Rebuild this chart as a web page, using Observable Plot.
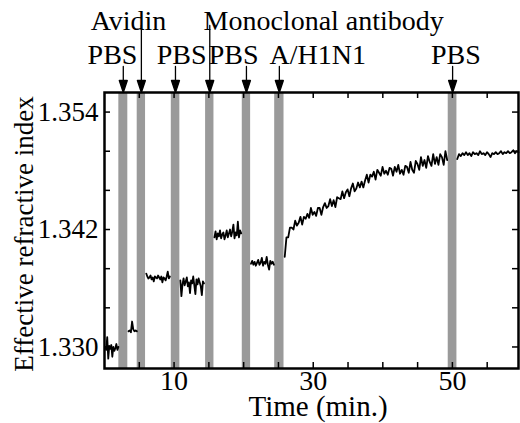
<!DOCTYPE html>
<html><head><meta charset="utf-8">
<script src="https://cdn.jsdelivr.net/npm/d3@7"></script>
<script src="https://cdn.jsdelivr.net/npm/@observablehq/plot@0.6"></script>
<style>body{margin:0;background:#fff}</style>
</head><body><div id="chart"></div>
<script>
// ---- data ----
const segStart = [0.1, 3.45, 6.0, 10.9, 15.8, 21.05, 25.9, 50.7];
const segEnd   = [2.0, 4.65, 9.4, 14.3, 19.65, 24.35, 49.25, 59.5];
const seg1 = [1.3300, 1.3297, 1.3310, 1.3288, 1.3301, 1.3298, 1.3302, 1.3290, 1.3300, 1.3296, 1.3299, 1.3303, 1.3297, 1.3300];
const seg2 = [1.3316, 1.3317, 1.3315, 1.3326, 1.3318, 1.3316, 1.3317, 1.3316];
const seg3 = [1.3375, 1.3372, 1.3370, 1.3371, 1.3373, 1.3369, 1.3371, 1.3367, 1.3372, 1.3371, 1.3370, 1.3373, 1.3371, 1.3369, 1.3372, 1.3366, 1.3371, 1.3370, 1.3368, 1.3372, 1.3377, 1.3370, 1.3372];
const seg4 = [1.3368, 1.3352, 1.3364, 1.3370, 1.3363, 1.3367, 1.3371, 1.3362, 1.3366, 1.3355, 1.3368, 1.3365, 1.3372, 1.3363, 1.3354, 1.3369, 1.3364, 1.3370, 1.3366, 1.3362, 1.3353, 1.3367, 1.3365];
const seg5 = [1.3412, 1.3418, 1.3410, 1.3416, 1.3413, 1.3419, 1.3411, 1.3415, 1.3417, 1.3410, 1.3414, 1.3419, 1.3412, 1.3416, 1.3420, 1.3413, 1.3418, 1.3425, 1.3411, 1.3417, 1.3414, 1.3428, 1.3412, 1.3419, 1.3416];
const seg6 = [1.3385, 1.3388, 1.3384, 1.3387, 1.3383, 1.3386, 1.3389, 1.3384, 1.3386, 1.3391, 1.3383, 1.3387, 1.3385, 1.3392, 1.3384, 1.3379, 1.3388, 1.3385, 1.3387, 1.3384];
const seg7 = [
  1.3392, 1.3412, 1.3412, 1.3422, 1.3422, 1.3420, 1.3429, 1.3424, 1.3427, 1.3433,
  1.3425, 1.3433, 1.3431, 1.3436, 1.3432, 1.3442, 1.3435, 1.3438, 1.3434, 1.3442,
  1.3442, 1.3435, 1.3443, 1.3447, 1.3442, 1.3444, 1.3451, 1.3444, 1.3450, 1.3443,
  1.3453, 1.3452, 1.3451, 1.3459, 1.3452, 1.3458, 1.3461, 1.3454, 1.3462, 1.3467,
  1.3459, 1.3462, 1.3468, 1.3463, 1.3469, 1.3463, 1.3470, 1.3476, 1.3468, 1.3476,
  1.3474, 1.3479, 1.3471, 1.3481, 1.3478, 1.3475, 1.3484, 1.3477, 1.3480, 1.3476,
  1.3483, 1.3482, 1.3475, 1.3484, 1.3479, 1.3486, 1.3477, 1.3481, 1.3476, 1.3485,
  1.3484, 1.3478, 1.3489, 1.3481, 1.3478, 1.3490, 1.3487, 1.3481, 1.3494, 1.3485,
  1.3491, 1.3483, 1.3495, 1.3489, 1.3485, 1.3497, 1.3487, 1.3494, 1.3486, 1.3497,
  1.3494, 1.3486, 1.3500, 1.3491];
const seg8 = [1.3492, 1.3497, 1.3495, 1.3498, 1.3496, 1.3499, 1.3496, 1.3498, 1.3495, 1.3499, 1.3497, 1.3498, 1.3496, 1.3500, 1.3497, 1.3498, 1.3496, 1.3499, 1.3497, 1.3494, 1.3498, 1.3497, 1.3499, 1.3497, 1.3498, 1.3500, 1.3497, 1.3499, 1.3498, 1.3500, 1.3498, 1.3499, 1.3501, 1.3498, 1.3500, 1.3499];
const segValues = [seg1, seg2, seg3, seg4, seg5, seg6, seg7, seg8];

const bandStart = [2.06, 4.70, 9.60, 14.53, 19.80, 24.46, 49.40];
const bandEnd   = [3.35, 5.90, 10.83, 15.73, 21.00, 25.80, 50.65];

const arrowTimes = [2.70, 5.30, 10.20, 15.13, 20.40, 25.13, 50.03];
const arrowRow   = [2, 1, 2, 1, 2, 2, 2];

const labelTexts = ["Avidin", "Monoclonal antibody", "PBS", "PBS", "PBS", "A/H1N1", "PBS"];
const labelTimes = [3.45, 31.5, 1.15, 11.08, 18.56, 30.65, 50.5];
const labelRow   = [1, 1, 2, 2, 2, 2, 2];

const xTickLabels = [10, 30, 50];
const yTickLabels = [1.330, 1.342, 1.354];
const xMinorTicks = [5, 10, 15, 20, 25, 30, 35, 40, 45, 50, 55];
const yMinorTicks = [1.330, 1.334, 1.338, 1.342, 1.346, 1.350, 1.354];

const xLabel = "Time (min.)";
const yLabel = "Effective refractive index";

// ---- build tables ----
const rows = segValues.flatMap((vals, s) => vals.map((v, i) => ({
  seg: s,
  t: segStart[s] + (segEnd[s] - segStart[s]) * i / (vals.length - 1),
  v
})));
const bands = bandStart.map((a, i) => ({a, b: bandEnd[i]}));
const arrows = arrowTimes.map((t, i) => ({t, row: arrowRow[i]}));
const labels = labelTexts.map((text, i) => ({text, t: labelTimes[i], row: labelRow[i]}));

// ---- layout ----
const W = 520, H = 423;
const mL = 104, mR = 2, mT = 92, mB = 55;
const FW = W - mL - mR, FH = H - mT - mB;
const font = "Liberation Serif";

const arrowShape = {
  draw(ctx, l) {
    const h = 12, w = 4;
    ctx.moveTo(0, 0);
    ctx.lineTo(0, -l + h);
    ctx.moveTo(0, -l);
    ctx.lineTo(-w, -l + h);
    ctx.lineTo(w, -l + h);
    ctx.closePath();
  }
};

const plot = Plot.plot({
  width: W, height: H,
  marginLeft: mL, marginRight: mR, marginTop: mT, marginBottom: mB,
  style: {fontFamily: font, color: "black", background: "white"},
  x: {domain: [0, 59.5], label: null},
  y: {domain: [1.3278, 1.3560], label: null},
  marks: [
    Plot.rect(bands, {x1: "a", x2: "b", fill: "#9a9a9a"}),
    Plot.line(rows, {x: "t", y: "v", z: "seg", stroke: "black", strokeWidth: 1.8}),
    Plot.frame({stroke: "black", strokeWidth: 2.5}),
    Plot.ruleX(xMinorTicks, {insetTop: FH - 6, stroke: "black", strokeWidth: 1.5}),
    Plot.ruleX(xMinorTicks, {insetBottom: FH - 6, stroke: "black", strokeWidth: 1.5}),
    Plot.ruleY(yMinorTicks, {insetRight: FW - 6, stroke: "black", strokeWidth: 1.5}),
    Plot.ruleY(yMinorTicks, {insetLeft: FW - 6, stroke: "black", strokeWidth: 1.5}),
    Plot.axisX({ticks: xTickLabels, tickSize: 0, tickPadding: 2, label: null, fontSize: 28, fontFamily: font, fill: "black", tickFormat: d => String(d)}),
    Plot.axisY({ticks: yTickLabels, tickSize: 0, tickPadding: 6, label: null, fontSize: 27, fontFamily: font, fill: "black", tickFormat: d3.format(".3f")}),
    Plot.text([xLabel], {frameAnchor: "bottom", textAnchor: "middle", lineAnchor: "bottom", dy: 47, dx: 6.5, fontSize: 29, fontFamily: font, fill: "black"}),
    Plot.text([yLabel], {frameAnchor: "left", textAnchor: "middle", lineAnchor: "middle", rotate: -90, dx: -80, dy: 3.5, fontSize: 27, fontFamily: font, fill: "black"}),
    Plot.vector(arrows.filter(d => d.row === 1), {x: "t", frameAnchor: "top", length: 67, rotate: 180, anchor: "end", shape: arrowShape, stroke: "black", fill: "black", strokeWidth: 1.3}),
    Plot.vector(arrows.filter(d => d.row === 2), {x: "t", frameAnchor: "top", length: 26, rotate: 180, anchor: "end", shape: arrowShape, stroke: "black", fill: "black", strokeWidth: 1.3}),
    Plot.text(labels.filter(d => d.row === 1), {x: "t", text: "text", frameAnchor: "top", lineAnchor: "bottom", dy: -63, fontSize: 28, fontFamily: font, fill: "black"}),
    Plot.text(labels.filter(d => d.row === 2), {x: "t", text: "text", frameAnchor: "top", lineAnchor: "bottom", dy: -29, fontSize: 28, fontFamily: font, fill: "black"})
  ]
});
document.getElementById("chart").appendChild(plot);
</script>
</body></html>
